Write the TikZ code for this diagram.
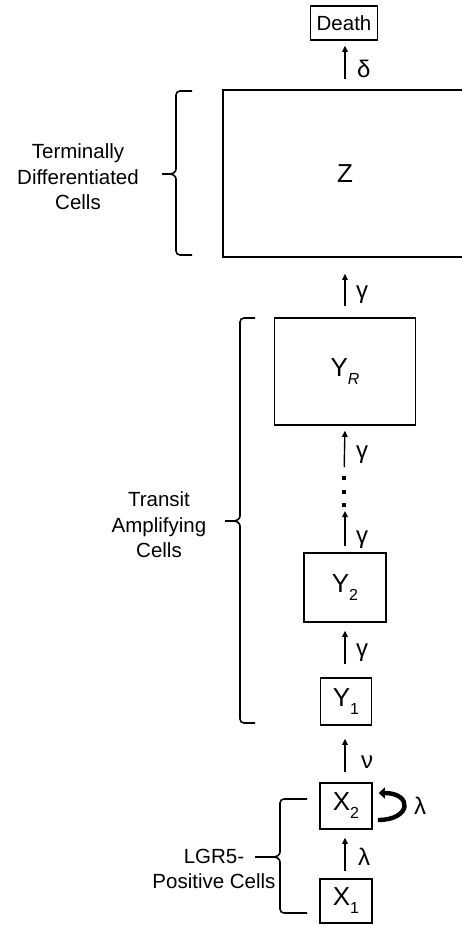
\documentclass[tikz,border=0pt]{standalone}
\usepackage{fontspec}
\setmainfont{Liberation Sans}
\usetikzlibrary{arrows.meta,calc}
\newcommand\mysub[1]{\raisebox{-8pt}{\fontsize{16}{16}\selectfont #1}}
\begin{document}
\begin{tikzpicture}[x=1pt,y=-1pt,
 box/.style={draw,line width=1.6pt,inner sep=0pt,font=\fontsize{26}{26}\selectfont},
 lbl/.style={font=\fontsize{20.5}{25.5}\selectfont,align=center,inner sep=0pt},
 rate/.style={font=\fontsize{24}{24}\selectfont,anchor=west,inner sep=0pt},
 flow/.style={line width=1.4pt,-{Triangle[length=6pt,width=5.5pt]}},
 loopflow/.style={line width=4.4pt,-{Triangle[length=6pt,width=11pt]}},
 brace/.style={line width=1.6pt},
 dot/.style={fill,inner sep=0pt,minimum size=4.2pt}]
\useasboundingbox (0,0) rectangle (462,925);
\clip (0,0) rectangle (462,925);

% boxes
\node[box,minimum width=67pt,minimum height=34pt,font=\fontsize{20.5}{20.5}\selectfont] (death) at (344,23) {Death};
\node[box,minimum width=244pt,minimum height=167pt] (Z) at (345,173.5) {Z};
\node[box,minimum width=141pt,minimum height=107pt] (YR) at (345,371.5) {Y\mysub{\itshape R}};
\node[box,minimum width=82pt,minimum height=69pt] (Y2) at (345,587.5) {Y\mysub{2}};
\node[box,minimum width=51pt,minimum height=47pt] (Y1) at (346,701.5) {Y\mysub{1}};
\node[box,minimum width=52pt,minimum height=46pt] (X2) at (346,806) {X\mysub{2}};
\node[box,minimum width=52pt,minimum height=44pt] (X1) at (346,901) {X\mysub{1}};

% dots between Y_R and Y_2
\node[dot] (d1) at (344,478) {};
\node[dot] (d2) at (344,492) {};
\node[dot] (d3) at (344,505) {};

% arrows
\draw[flow,shorten <=10pt,shorten >=5pt] (Z.north -| 345,0) -- (death.south -| 345,0);
\draw[flow,shorten <=11pt,shorten >=16pt] (YR.north) -- (Z.south);
\draw[flow,shorten <=11pt,shorten >=5pt] (d1.center) -- (YR.south);
\draw[flow,shorten <=6pt,shorten >=6pt] (Y2.north) -- (d3.center -| Y2.north);
\draw[flow,shorten <=13pt,shorten >=8pt] (Y1.north -| 345,0) -- (Y2.south);
\draw[flow,shorten <=10pt,shorten >=13pt] (X2.north -| 345,0) -- (Y1.south -| 345,0);
\draw[flow,shorten <=7pt,shorten >=8pt] (X1.north -| 345,0) -- (X2.south -| 345,0);
\draw[loopflow] ($(X2.east)+(5,14)$) .. controls +(34,0) and +(34,0) .. ($(X2.east)+(6,-13)$);

% rate labels
\node[rate] (rdelta) at (357,69) {δ};
\node[rate] (rg1) at (356,295) {γ};
\node[rate] (rg2) at (356,455) {γ};
\node[rate] (rg3) at (356,540) {γ};
\node[rate] (rg4) at (356,653) {γ};
\node[rate] (rnu) at (361,762) {ν};
\node[rate] (rl1) at (358,857) {λ};
\node[rate] (rl2) at (414,806) {λ};

% braces
\draw[brace] (192,91) -- (180,91) to[out=180,in=90] (176,95) -- (176,169) to[out=-90,in=0] (169,174) -- (162,174)
  (169,174) to[out=0,in=90] (176,179) -- (176,251) to[out=-90,in=180] (180,255) -- (192,255);
\draw[brace] (255,318) -- (244,318) to[out=180,in=90] (240,322) -- (240,516) to[out=-90,in=0] (233,521) -- (225,521)
  (233,521) to[out=0,in=90] (240,526) -- (240,719) to[out=-90,in=180] (244,723) -- (255,723);
\draw[brace] (307,799) -- (284,799) to[out=180,in=90] (280,803) -- (280,852) to[out=-90,in=0] (273,857) -- (255,857)
  (273,857) to[out=0,in=90] (280,862) -- (280,909) to[out=-90,in=180] (284,913) -- (307,913);

% group labels
\node[lbl] (tdc) at (78,177) {Terminally\\Differentiated\\Cells};
\node[lbl] (tac) at (159,525) {Transit\\Amplifying\\Cells};
\node[lbl] (lgr) at (214,869) {LGR5-\\Positive Cells};
\end{tikzpicture}
\end{document}
